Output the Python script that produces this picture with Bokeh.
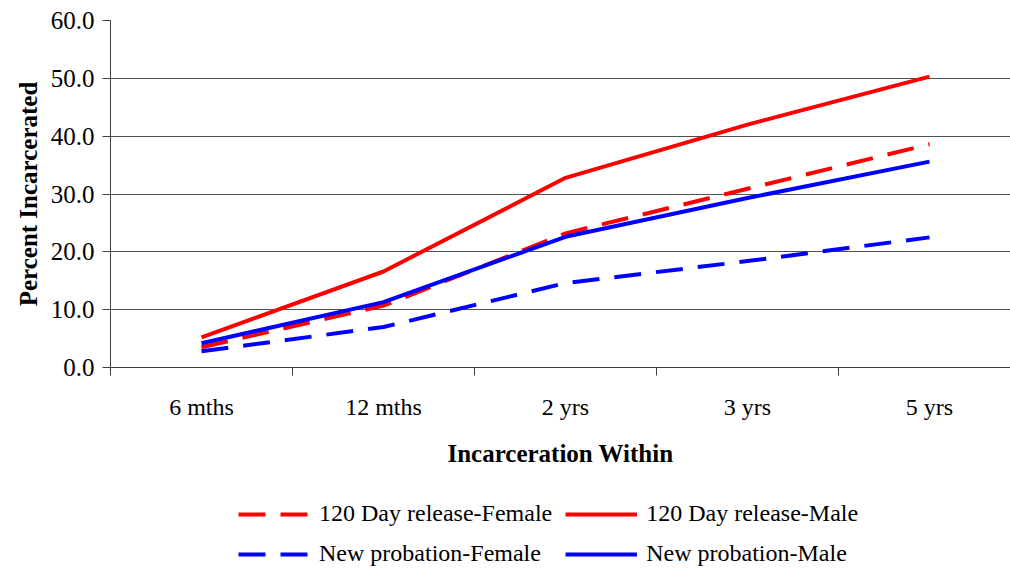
from bokeh.plotting import figure
from bokeh.layouts import column
from bokeh.models import FixedTicker, Legend, LegendItem, Range1d, PrintfTickFormatter
from bokeh.embed import file_html
from bokeh.resources import INLINE

categories = ["6 mths", "12 mths", "2 yrs", "3 yrs", "5 yrs"]
rel_female = [3.5, 10.7, 23.2, 30.9, 38.6]
rel_male = [5.2, 16.6, 32.8, 42.0, 50.3]
prob_female = [2.8, 7.0, 14.6, 18.4, 22.5]
prob_male = [4.2, 11.3, 22.6, 29.3, 35.6]
series_names = ["120 Day release-Female", "120 Day release-Male",
                "New probation-Female", "New probation-Male"]
y_ticks = [0, 10, 20, 30, 40, 50, 60]

FONT = "Liberation Serif"
x = [i + 0.5 for i in range(len(categories))]

p = figure(frame_width=900, frame_height=347, output_backend="svg", toolbar_location=None,
           x_range=Range1d(0, 4.945), y_range=Range1d(0, 60),
           min_border_left=110, min_border_right=0, min_border_top=20,
           min_border_bottom=123)
p.outline_line_color = None
p.background_fill_color = "white"

# grid
p.xgrid.grid_line_color = None
p.ygrid.ticker = FixedTicker(ticks=y_ticks)
p.ygrid.grid_line_color = "#505050"
p.ygrid.grid_line_width = 1

# y axis
p.yaxis.ticker = FixedTicker(ticks=y_ticks)
p.yaxis.formatter = PrintfTickFormatter(format="%.1f")
p.yaxis.axis_label = "Percent Incarcerated"
p.yaxis.axis_label_text_font = FONT
p.yaxis.axis_label_text_font_style = "bold"
p.yaxis.axis_label_text_font_size = "25px"
p.yaxis.axis_label_text_color = "black"
p.yaxis.axis_label_standoff = 6
p.yaxis.major_label_text_font = FONT
p.yaxis.major_label_text_font_size = "25px"
p.yaxis.major_label_text_color = "black"
p.yaxis.major_label_standoff = 8
p.yaxis.major_tick_out = 8
p.yaxis.major_tick_in = 0
p.yaxis.minor_tick_line_color = None
p.yaxis.axis_line_color = "#404040"
p.yaxis.major_tick_line_color = "#404040"

# x axis
p.xaxis.ticker = FixedTicker(ticks=x, minor_ticks=list(range(len(categories))))
p.xaxis.major_label_overrides = {xi: c for xi, c in zip(x, categories)}
p.xaxis.major_tick_line_color = None
p.xaxis.minor_tick_out = 8
p.xaxis.minor_tick_in = 0
p.xaxis.minor_tick_line_color = "#404040"
p.xaxis.axis_line_color = "#404040"
p.xaxis.major_label_text_font = FONT
p.xaxis.major_label_text_font_size = "24px"
p.xaxis.major_label_text_color = "black"
p.xaxis.major_label_standoff = 18
p.xaxis.axis_label = "Incarceration Within"
p.xaxis.axis_label_text_font = FONT
p.xaxis.axis_label_text_font_style = "bold"
p.xaxis.axis_label_text_font_size = "25px"
p.xaxis.axis_label_text_color = "black"
p.xaxis.axis_label_standoff = 17

styles = [("#FF0000", "27 15"), ("#FF0000", "solid"),
          ("#0000FF", "27 15"), ("#0000FF", "solid")]
data = [rel_female, rel_male, prob_female, prob_male]
for vals, (col, dash) in zip(data, styles):
    p.line(x, vals, line_color=col, line_width=4, line_dash=dash,
           line_join="round")

# legend panel below the chart (its series lie outside its visible range;
# only the legend is shown)
lg = figure(frame_width=1010, frame_height=79, output_backend="svg",
            toolbar_location=None, x_axis_location=None, y_axis_location=None,
            x_range=Range1d(0, 1), y_range=Range1d(-20, -10),
            min_border_left=0, min_border_right=0, min_border_top=0,
            min_border_bottom=0)
lg.outline_line_color = None
lg.grid.grid_line_color = None
items = []
for name, vals, (col, dash) in zip(series_names, data, styles):
    r = lg.line(x, vals, line_color=col, line_width=4, line_dash=dash)
    items.append(LegendItem(label=name, renderers=[r]))

legend = Legend(items=items, orientation="horizontal", ncols=2,
                location=(238, 2), glyph_width=72, glyph_height=26,
                label_standoff=9, spacing=13, padding=0, margin=0,
                label_text_font=FONT, label_text_font_size="24px",
                label_text_color="black",
                border_line_color=None, background_fill_alpha=0)
lg.add_layout(legend, "center")

layout = column(p, lg, spacing=0)
open("out.html", "w").write(file_html(layout, INLINE))
